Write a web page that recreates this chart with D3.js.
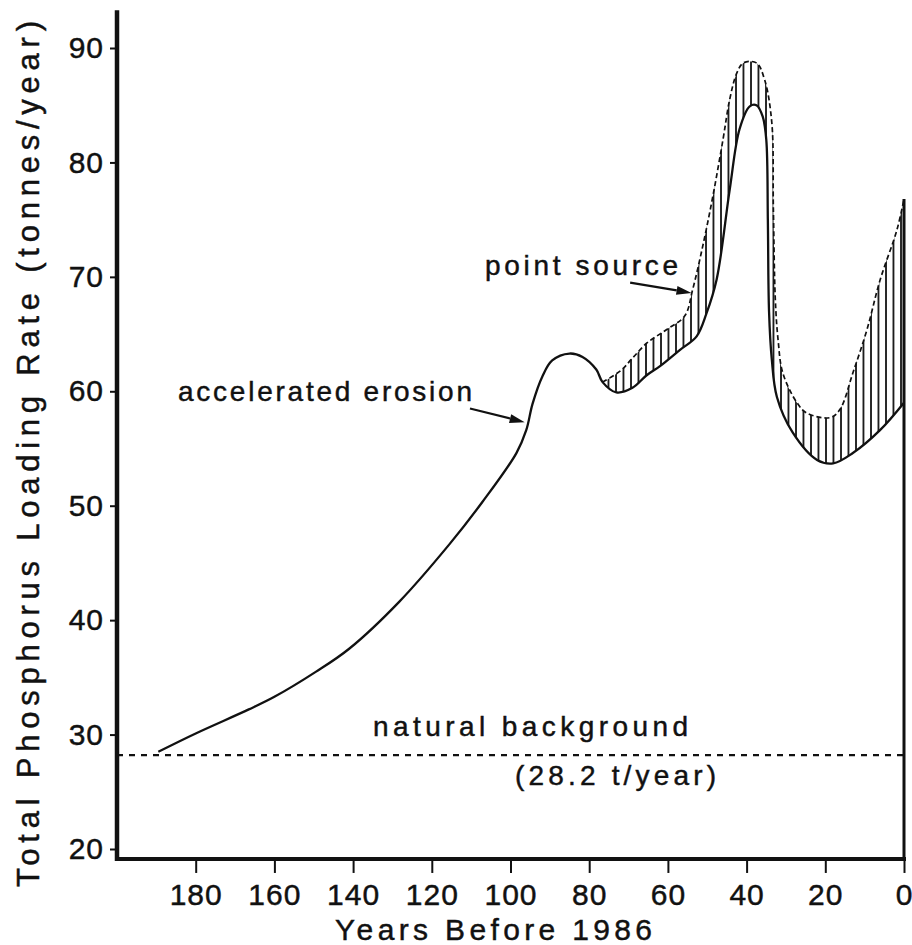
<!DOCTYPE html>
<html>
<head>
<meta charset="utf-8">
<script src="https://cdn.jsdelivr.net/npm/d3@7"></script>
<style>
  html, body { margin: 0; padding: 0; background: #fff; }
  svg { display: block; }
  text { font-family: "Liberation Sans", Arial, Helvetica, sans-serif; fill: #111; stroke: #111; stroke-width: 0.45px; }
</style>
</head>
<body>
<svg id="chart" width="912" height="945"></svg>
<script>
// Total phosphorus loading (t/yr) by years before 1986
const erosionYears = [189.5, 180, 166.5, 160, 149.4, 141, 128.3, 115.6, 107.2, 98.5, 96, 94.4, 91.9, 89.4, 85, 81.7, 78.2, 76.6, 73.1, 69, 65.4, 62, 57, 52.7, 50.2, 47.6, 44.3, 41.8, 39.2, 37.5, 35.9, 35.0, 34.6, 34.3, 33.6, 32.3, 28.3, 22.1, 18, 13, 6.1, 0];
const erosionValues = [28.5, 30.1, 32.2, 33.3, 35.5, 37.5, 41.6, 46.6, 50.3, 54.6, 56.6, 58.9, 61.3, 62.7, 63.3, 63.0, 61.9, 60.8, 59.9, 60.3, 61.4, 62.2, 63.6, 64.8, 66.8, 69.8, 77.6, 82.9, 84.9, 85.0, 84.0, 82.0, 75.0, 67.0, 62.8, 59.5, 56.4, 54.0, 53.7, 54.6, 56.6, 59.0];

// erosion plus point-source loading
const totalYears = [76.6, 72, 69, 65.4, 60.3, 55.7, 53.7, 51.2, 48.6, 46, 44.3, 42.5, 40.8, 37.5, 35.4, 33.6, 33.2, 32.7, 32.0, 30.8, 27.2, 24.7, 18.8, 16.3, 13, 9.4, 6.1, 1.8, 0];
const totalValues = [60.8, 61.8, 62.9, 64.2, 65.4, 66.6, 68.9, 72.6, 77.0, 82.0, 85.5, 87.8, 88.7, 88.7, 87.2, 83.5, 76.0, 68.0, 64.5, 61.6, 59.0, 58.1, 57.7, 58.4, 61.6, 65.4, 69.7, 74.1, 76.8];

const naturalBackground = 28.2;

const xTicks = [180, 160, 140, 120, 100, 80, 60, 40, 20, 0];
const yTicks = [20, 30, 40, 50, 60, 70, 80, 90];

const svg = d3.select("#chart");

const x = d3.scaleLinear().domain([200, 0]).range([117, 904]);
const y = d3.scaleLinear().domain([20, 90]).range([849, 48]);
const yBottom = 19.13, yTop = 93.3;

const erosion = erosionYears.map((yr, i) => ({ yr, v: erosionValues[i] }));
const total = totalYears.map((yr, i) => ({ yr, v: totalValues[i] }));

// vertical hatching for the point-source band
const defs = svg.append("defs");
const pat = defs.append("pattern")
  .attr("id", "hatch").attr("patternUnits", "userSpaceOnUse")
  .attr("width", 7.5).attr("height", 10);
pat.append("line").attr("x1", 1).attr("x2", 1).attr("y1", 0).attr("y2", 10)
  .attr("stroke", "#111").attr("stroke-width", 1.8);

const curve = d3.curveCatmullRom.alpha(0.5);

// band under the total curve, then blank out everything under the erosion curve
svg.append("path").datum(total)
  .attr("d", d3.area().curve(curve).x(d => x(d.yr)).y0(y(yBottom)).y1(d => y(d.v)))
  .attr("fill", "url(#hatch)");
svg.append("path").datum(erosion)
  .attr("d", d3.area().curve(curve).x(d => x(d.yr)).y0(y(yBottom) + 2).y1(d => y(d.v)))
  .attr("fill", "#fff");

// total (erosion + point source) outline, dashed
svg.append("path").datum(total)
  .attr("d", d3.line().curve(curve).x(d => x(d.yr)).y(d => y(d.v)))
  .attr("fill", "none").attr("stroke", "#111").attr("stroke-width", 1.7)
  .attr("stroke-dasharray", "5,3");

// accelerated erosion curve
svg.append("path").datum(erosion)
  .attr("d", d3.line().curve(curve).x(d => x(d.yr)).y(d => y(d.v)))
  .attr("fill", "none").attr("stroke", "#111").attr("stroke-width", 2.3);

// natural background level
svg.append("line")
  .attr("x1", x(200)).attr("x2", x(0) + 2)
  .attr("y1", y(naturalBackground)).attr("y2", y(naturalBackground))
  .attr("stroke", "#111").attr("stroke-width", 2.4).attr("stroke-dasharray", "6,6");

// right edge of the band at year 0
svg.append("line")
  .attr("x1", x(0)).attr("x2", x(0))
  .attr("y1", y(yBottom)).attr("y2", y(totalValues[totalValues.length - 1]))
  .attr("stroke", "#111").attr("stroke-width", 3);

// axes
const yAxis = svg.append("g").attr("transform", `translate(${x(200)},0)`)
  .call(d3.axisLeft(y).tickValues(yTicks).tickSize(7).tickPadding(6).tickFormat(d3.format("d")));
yAxis.select(".domain").remove();
yAxis.selectAll(".tick line").attr("stroke", "#111").attr("stroke-width", 2);
yAxis.selectAll(".tick text").attr("font-size", 30).attr("letter-spacing", 1)
  .style("font-family", '"Liberation Sans", Arial, sans-serif').attr("fill", "#111");

const xAxis = svg.append("g").attr("transform", `translate(0,${y(yBottom)})`)
  .call(d3.axisBottom(x).tickValues(xTicks).tickSize(14).tickPadding(11).tickFormat(d3.format("d")));
xAxis.select(".domain").remove();
xAxis.selectAll(".tick line").attr("stroke", "#111").attr("stroke-width", 2);
xAxis.selectAll(".tick text").attr("font-size", 30).attr("letter-spacing", 1)
  .style("font-family", '"Liberation Sans", Arial, sans-serif').attr("fill", "#111");

svg.append("line")
  .attr("x1", x(200)).attr("x2", x(200)).attr("y1", y(yTop)).attr("y2", y(yBottom) + 2)
  .attr("stroke", "#111").attr("stroke-width", 4.5);
svg.append("line")
  .attr("x1", x(200) - 2).attr("x2", x(0) + 2).attr("y1", y(yBottom)).attr("y2", y(yBottom))
  .attr("stroke", "#111").attr("stroke-width", 4);

// axis titles
svg.append("text")
  .attr("transform", `translate(39,454) rotate(-90)`)
  .attr("text-anchor", "middle").attr("font-size", 31)
  .attr("textLength", 866).attr("lengthAdjust", "spacing")
  .text("Total Phosphorus Loading Rate (tonnes/year)");

svg.append("text")
  .attr("x", 335).attr("y", 940).attr("font-size", 30)
  .attr("textLength", 317).attr("lengthAdjust", "spacing")
  .text("Years Before 1986");

// annotations
function label(txt, x0, yb, len) {
  svg.append("text").attr("x", x0).attr("y", yb).attr("font-size", 28)
    .attr("textLength", len).attr("lengthAdjust", "spacing").text(txt);
}
label("accelerated erosion", 178, 401, 294);
label("point source", 485, 275, 193);
label("natural background", 373, 736, 315);
label("(28.2 t/year)", 515, 785, 201);

function arrow(fromYr, fromV, toYr, toV) {
  const x0 = x(fromYr), y0 = y(fromV), x1 = x(toYr), y1 = y(toV);
  const ang = Math.atan2(y1 - y0, x1 - x0);
  const L = 15, W = 4.5;
  const bx = x1 - L * Math.cos(ang), by = y1 - L * Math.sin(ang);
  svg.append("line").attr("x1", x0).attr("y1", y0).attr("x2", bx).attr("y2", by)
    .attr("stroke", "#111").attr("stroke-width", 2.2);
  svg.append("path")
    .attr("d", `M${x1},${y1}L${bx - W * Math.sin(ang)},${by + W * Math.cos(ang)}L${bx + W * Math.sin(ang)},${by - W * Math.cos(ang)}Z`)
    .attr("fill", "#111");
}
arrow(110.3, 58.5, 96.4, 57.3);
arrow(69.6, 69.5, 54.0, 68.6);
</script>
</body>
</html>
